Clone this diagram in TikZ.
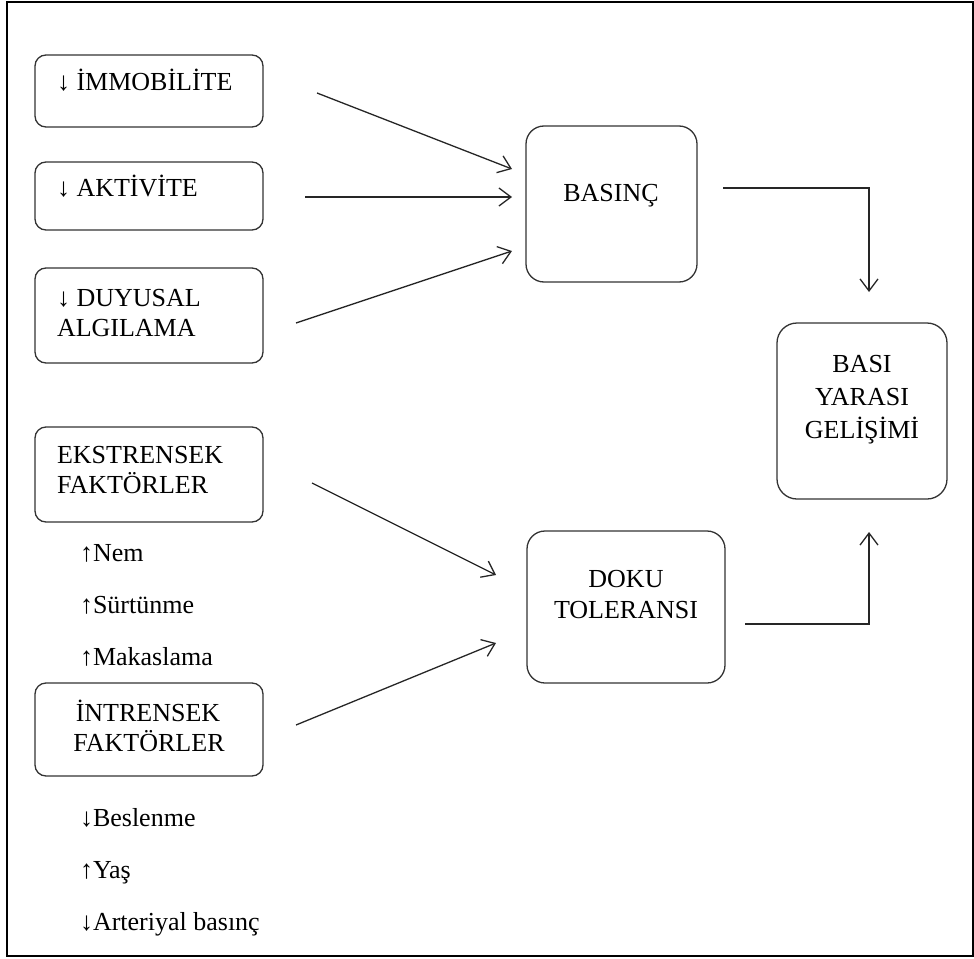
\documentclass[tikz,border=0pt]{standalone}
\usepackage{fontspec}
\setmainfont{Liberation Serif}
\usetikzlibrary{arrows.meta}
\begin{document}
\begin{tikzpicture}[x=1pt,y=-1pt,
  frame/.style={draw=black, line width=1.6pt},
  box/.style={draw=black!80, line width=1.3pt, rounded corners=#1,
    inner sep=0pt, outer sep=0pt},
  box/.default=11pt,
  lbl/.style={font=\fontsize{26}{30}\selectfont, inner sep=0pt, outer sep=0pt, text=black},
  flow/.style={draw=black!85, line width=1.3pt,
    -{Straight Barb[length=12pt,width=18pt,line width=1.3pt]}}]

% page and outer frame
\useasboundingbox (0,0) rectangle (974,958);
\draw[frame] (7,2) rectangle (973,956);

% left column boxes
\node[box, minimum width=228pt, minimum height=72pt] (imm) at (149,91) {};
\node[box, minimum width=228pt, minimum height=68pt] (akt) at (149,196) {};
\node[box, minimum width=228pt, minimum height=95pt] (duy) at (149,315.5) {};
\node[box, minimum width=228pt, minimum height=95pt] (eks) at (149,474.5) {};
\node[box, minimum width=228pt, minimum height=93pt] (int) at (149,729.5) {};

% middle and right boxes
\node[box=18pt, minimum width=171pt, minimum height=156pt] (bas) at (611.5,204) {};
\node[box=18pt, minimum width=198pt, minimum height=152pt] (doku) at (626,607) {};
\node[box=20pt, minimum width=170pt, minimum height=176pt] (sonuc) at (862,411) {};

% box texts
\node[lbl, anchor=base west] (t-imm) at (57,90) {↓ İMMOBİLİTE};
\node[lbl, anchor=base west] (t-akt) at (57,196) {↓ AKTİVİTE};
\node[lbl, anchor=base west] (t-duy1) at (57,306) {↓ DUYUSAL};
\node[lbl, anchor=base west] (t-duy2) at (57,336) {ALGILAMA};
\node[lbl, anchor=base west] (t-eks1) at (57,463) {EKSTRENSEK};
\node[lbl, anchor=base west] (t-eks2) at (57,493) {FAKTÖRLER};
\node[lbl, anchor=base] (t-int1) at (148,721) {İNTRENSEK};
\node[lbl, anchor=base] (t-int2) at (149,751) {FAKTÖRLER};
\node[lbl, anchor=base] (t-bas) at (611,201) {BASINÇ};
\node[lbl, anchor=base] (t-doku1) at (626,587) {DOKU};
\node[lbl, anchor=base] (t-doku2) at (626,618) {TOLERANSI};
\node[lbl, anchor=base] (t-son1) at (862,372) {BASI};
\node[lbl, anchor=base] (t-son2) at (862,405) {YARASI};
\node[lbl, anchor=base] (t-son3) at (862,438) {GELİŞİMİ};

% factor lists
\node[lbl, anchor=base west] (nem) at (80,561) {↑Nem};
\node[lbl, anchor=base west] (surt) at (80,613) {↑Sürtünme};
\node[lbl, anchor=base west] (mak) at (80,665) {↑Makaslama};
\node[lbl, anchor=base west] (besl) at (80,826) {↓Beslenme};
\node[lbl, anchor=base west] (yas) at (80,878) {↑Yaş};
\node[lbl, anchor=base west] (art) at (80,930) {↓Arteriyal basınç};

% connector ends
\coordinate (imm-o) at (317,93);
\coordinate (akt-o) at (305,197);
\coordinate (duy-o) at (296,323);
\coordinate (bas-i1) at (512,169);
\coordinate (bas-i2) at (512,197);
\coordinate (bas-i3) at (512,251);
\coordinate (bas-o) at (723,188);
\coordinate (son-i1) at (869,292);
\coordinate (eks-o) at (312,483);
\coordinate (int-o) at (296,725);
\coordinate (doku-i1) at (496,575);
\coordinate (doku-i2) at (496,643);
\coordinate (doku-o) at (745,624);
\coordinate (son-i2) at (869,532);

% connectors
\draw[flow] (imm-o) -- (bas-i1);
\draw[flow] (akt-o) -- (bas-i2);
\draw[flow] (duy-o) -- (bas-i3);
\draw[flow] (bas-o) -| (son-i1);
\draw[flow] (eks-o) -- (doku-i1);
\draw[flow] (int-o) -- (doku-i2);
\draw[flow] (doku-o) -| (son-i2);
\end{tikzpicture}
\end{document}
